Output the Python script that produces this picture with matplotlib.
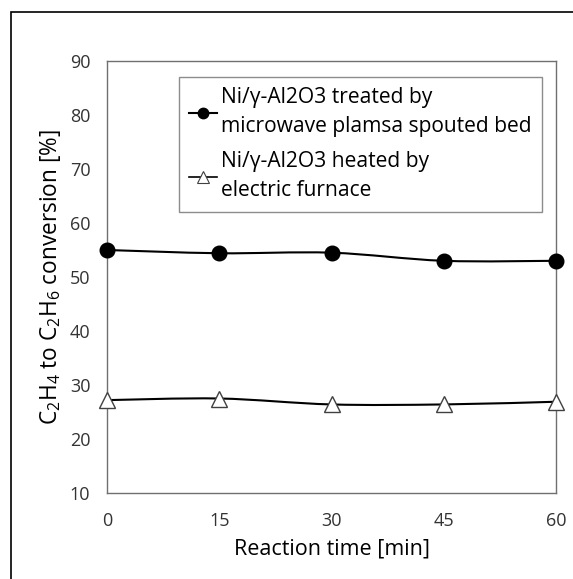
import numpy as np
import matplotlib
matplotlib.use("Agg")
import matplotlib.pyplot as plt
from matplotlib.path import Path
from matplotlib.patches import PathPatch, Rectangle

# --- DATA ---
time_min = [0, 15, 30, 45, 60]
microwave = [55.0, 54.4, 54.5, 53.0, 53.0]
furnace = [27.2, 27.5, 26.4, 26.4, 26.9]
x_ticks = [0, 15, 30, 45, 60]
y_ticks = [10, 20, 30, 40, 50, 60, 70, 80, 90]
labels = ["Ni/\u03b3-Al2O3 treated by\nmicrowave plamsa spouted bed",
          "Ni/\u03b3-Al2O3 heated by\nelectric furnace"]

plt.rcParams['font.family'] = ['Open Sans', 'DejaVu Sans']
plt.rcParams['mathtext.fontset'] = 'custom'
plt.rcParams['mathtext.rm'] = 'Open Sans'
plt.rcParams['mathtext.it'] = 'Open Sans'


def smooth_path(x, y):
    # excel-like smoothed line: cubic bezier through the points
    x = np.asarray(x, float)
    y = np.asarray(y, float)
    verts = [(x[0], y[0])]
    codes = [Path.MOVETO]
    n = len(x)
    for i in range(n - 1):
        i0 = max(i - 1, 0)
        i3 = min(i + 2, n - 1)
        c1 = (x[i] + (x[i + 1] - x[i0]) / 6, y[i] + (y[i + 1] - y[i0]) / 6)
        c2 = (x[i + 1] - (x[i3] - x[i]) / 6, y[i + 1] - (y[i3] - y[i]) / 6)
        verts += [c1, c2, (x[i + 1], y[i + 1])]
        codes += [Path.CURVE4] * 3
    return Path(verts, codes)


fig = plt.figure(figsize=(5.73, 5.79), dpi=100)
ax = fig.add_axes([107 / 573, 1 - 493 / 579, 449 / 573, 432 / 579])

for ys in (microwave, furnace):
    ax.add_patch(PathPatch(smooth_path(time_min, ys), fill=False,
                           edgecolor='black', lw=1.5, clip_on=False, zorder=2))

h1, = ax.plot(time_min, microwave, ls='none', marker='o', ms=10.5,
              mfc='black', mec='black', clip_on=False, zorder=3)
h2, = ax.plot(time_min, furnace, ls='none', marker='^', ms=12,
              mfc='white', mec='#404040', mew=1, clip_on=False, zorder=3)

# legend handles with a short line through the marker
lh1, = ax.plot([], [], color='black', lw=1.5, marker='o', ms=7.5, mfc='black', mec='black')
lh2, = ax.plot([], [], color='black', lw=1.2, marker='^', ms=8, mfc='white', mec='#404040', mew=0.8)

ax.set_xlim(0, 60)
ax.set_ylim(10, 90)
ax.set_xticks(x_ticks)
ax.set_yticks(y_ticks)
ax.tick_params(length=0, labelsize=13, colors='#333333', pad=12)
ax.tick_params(axis='x', pad=14)
for s in ax.spines.values():
    s.set_color('#707070')
    s.set_linewidth(1)

ax.set_xlabel('Reaction time [min]', fontsize=15.5, labelpad=6)
ax.set_ylabel('C$_2$H$_4$ to C$_2$H$_6$ conversion [%]', fontsize=16.3, labelpad=5)

leg = fig.legend([lh1, lh2], labels, loc='upper left',
                 bbox_to_anchor=(179 / 573, 1 - 77 / 579),
                 bbox_transform=fig.transFigure, fontsize=15.1,
                 frameon=True, fancybox=False, edgecolor='#707070',
                 borderaxespad=0, handlelength=1.3, handletextpad=0.2,
                 labelspacing=0.65, borderpad=0.5)
leg.get_frame().set_linewidth(1)
for t in leg.get_texts():
    t.set_linespacing(1.5)

fig.patches.append(Rectangle((11 / 573, -0.1), 1.1, 1.1 - 12 / 579,
                             transform=fig.transFigure, fill=False,
                             edgecolor='black', lw=1.2))

fig.savefig('out.png', dpi=100)
